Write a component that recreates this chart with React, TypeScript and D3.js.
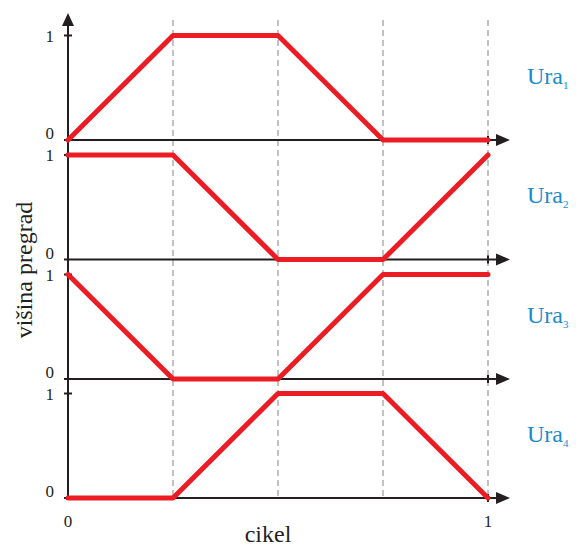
import React from "react";
import * as d3 from "d3";

const xSteps = [0, 0.25, 0.5, 0.75, 1];
const ura1 = [0, 1, 1, 0, 0];
const ura2 = [1, 1, 0, 0, 1];
const ura3 = [1, 0, 0, 1, 1];
const ura4 = [0, 0, 1, 1, 0];
const seriesNames = ["1", "2", "3", "4"];
const seriesValues = [ura1, ura2, ura3, ura4];
const yTicks = [0, 1];
const xTickLabels = ["0", "1"];
const dashPositions = [0.25, 0.5, 0.75, 1];

const W = 579;
const H = 546;
const RED = "#ec1c24";
const AX = "#231f20";
const BLUE = "#1b8bcc";
const FONT = "Liberation Serif, DejaVu Serif, serif";

export default function App() {
  const x = d3.scaleLinear().domain([0, 1]).range([68, 488]);
  const baselines = [140, 259.5, 379, 498];
  const panelH = 104.5;
  const line = d3.line<number>();

  return (
    <svg width={W} height={H} style={{ position: "absolute", left: 0, top: 0, fontFamily: FONT }}>
      {dashPositions.map((d, i) => (
        <line key={"d" + i} x1={x(d)} x2={x(d)} y1={20} y2={498}
          stroke="#9a9a9a" strokeWidth={1.2} strokeDasharray="6,4" />
      ))}
      <line x1={x(0)} x2={x(0)} y1={498} y2={22} stroke={AX} strokeWidth={2} />
      <path d={`M${x(0) - 6},26 L${x(0)},13 L${x(0) + 6},26 Z`} fill={AX} />
      {seriesValues.map((vals, si) => {
        const b = baselines[si];
        const y = d3.scaleLinear().domain([0, 1]).range([b, b - panelH]);
        const pts = xSteps.map((t, i) => [x(t), y(vals[i])] as [number, number]);
        return (
          <g key={"p" + si}>
            <line x1={64} x2={500} y1={b} y2={b} stroke={AX} strokeWidth={2} />
            <path d={`M496,${b - 6} L510,${b} L496,${b + 6} Z`} fill={AX} />
            <line x1={x(1)} x2={x(1)} y1={b - 4} y2={b + 4} stroke={AX} strokeWidth={2} />
            <line x1={64} x2={72} y1={y(1)} y2={y(1)} stroke={AX} strokeWidth={2} />
            {yTicks.map((t) => (
              <text key={"yt" + t} x={54} y={t === 0 ? y(0) - 1 : y(1) + 6}
                textAnchor="end" fontSize={17} fill={AX}>
                {String(t)}
              </text>
            ))}
            <path d={line(pts) || ""} fill="none" stroke={RED} strokeWidth={5}
              strokeLinejoin="round" strokeLinecap="round" />
            <text x={527} y={b - panelH / 2 - 4} fontSize={24} fill={BLUE}>
              Ura
              <tspan fontSize={11} dy={5}>{seriesNames[si]}</tspan>
            </text>
          </g>
        );
      })}
      {xTickLabels.map((l, i) => (
        <text key={"xt" + i} x={x(i)} y={527} textAnchor="middle" fontSize={17} fill={AX}>
          {l}
        </text>
      ))}
      <text x={268} y={542} textAnchor="middle" fontSize={24} fill={AX}>cikel</text>
      <text transform="translate(32,270) rotate(-90)" textAnchor="middle" fontSize={24} fill={AX}>
        višina pregrad
      </text>
    </svg>
  );
}
